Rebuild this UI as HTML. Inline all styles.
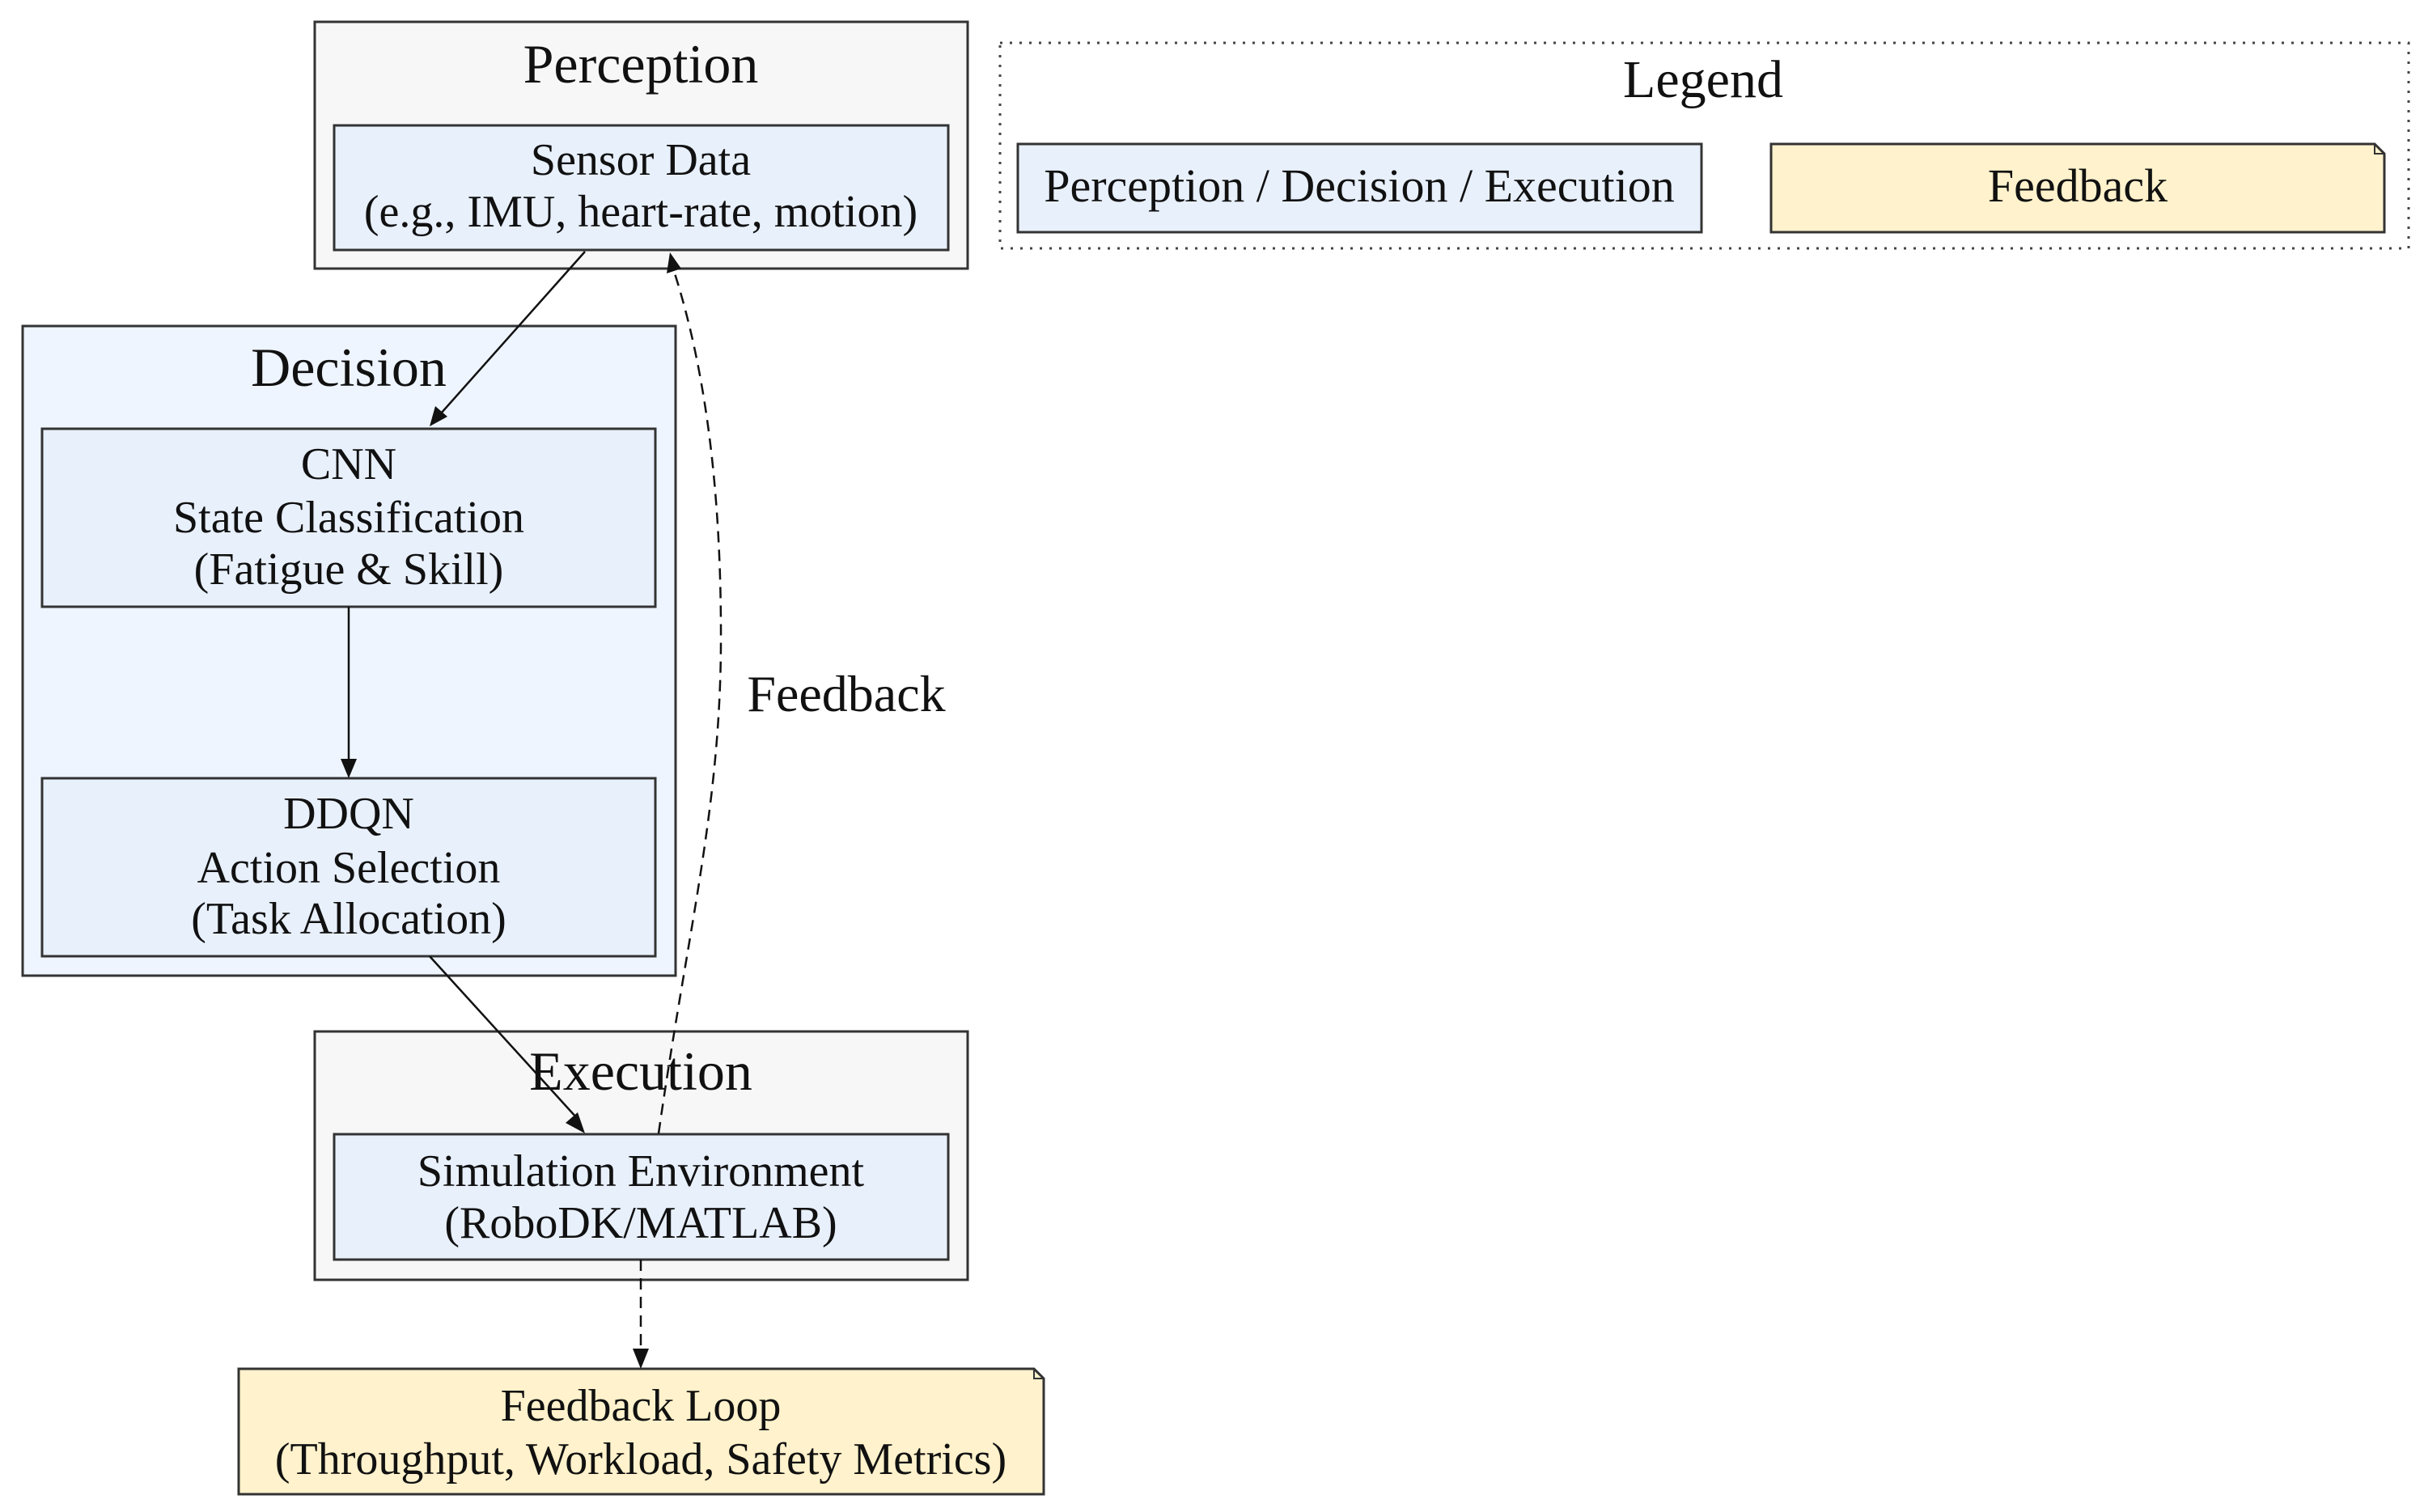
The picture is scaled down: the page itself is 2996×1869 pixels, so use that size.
<!DOCTYPE html>
<html><head><meta charset="utf-8"><style>
html,body{margin:0;padding:0;background:#fff;}
svg{display:block;}
text{font-family:"Liberation Serif",serif;fill:#111;text-anchor:middle;}
</style></head><body>
<svg width="2996" height="1869" viewBox="0 0 2996 1869" xmlns="http://www.w3.org/2000/svg">
<!-- Perception -->
<rect x="389" y="27" width="807" height="305" fill="#f7f7f7" stroke="#333" stroke-width="3"/>
<text x="792" y="102" font-size="68">Perception</text>
<rect x="413" y="155" width="759" height="154" fill="#e8f0fc" stroke="#333" stroke-width="3"/>
<text x="792" y="216" font-size="56">Sensor Data</text>
<text x="792" y="280" font-size="56">(e.g., IMU, heart-rate, motion)</text>
<!-- Decision -->
<rect x="28" y="403" width="807" height="803" fill="#eef5ff" stroke="#333" stroke-width="3"/>
<text x="431" y="477" font-size="68">Decision</text>
<rect x="52" y="530" width="758" height="220" fill="#e8f0fc" stroke="#333" stroke-width="3"/>
<text x="431" y="592" font-size="56">CNN</text>
<text x="431" y="658" font-size="56">State Classification</text>
<text x="431" y="722" font-size="56">(Fatigue &amp; Skill)</text>
<rect x="52" y="962" width="758" height="220" fill="#e8f0fc" stroke="#333" stroke-width="3"/>
<text x="431" y="1024" font-size="56">DDQN</text>
<text x="431" y="1091" font-size="56">Action Selection</text>
<text x="431" y="1154" font-size="56">(Task Allocation)</text>
<!-- Execution -->
<rect x="389" y="1275" width="807" height="307" fill="#f7f7f7" stroke="#333" stroke-width="3"/>
<text x="792" y="1347" font-size="68">Execution</text>
<rect x="413" y="1402" width="759" height="155" fill="#e8f0fc" stroke="#333" stroke-width="3"/>
<text x="792" y="1466" font-size="56">Simulation Environment</text>
<text x="792" y="1530" font-size="56">(RoboDK/MATLAB)</text>
<!-- Feedback loop note -->
<path d="M295 1692 H1278 L1290 1704 V1847 H295 Z" fill="#fff2cc" stroke="#333" stroke-width="3"/>
<path d="M1278 1692 V1704 H1290" fill="none" stroke="#333" stroke-width="2"/>
<text x="792" y="1756" font-size="56">Feedback Loop</text>
<text x="792" y="1822" font-size="56">(Throughput, Workload, Safety Metrics)</text>
<!-- Arrows -->
<line x1="723" y1="311" x2="545" y2="511" stroke="#111" stroke-width="2.5"/>
<polygon points="531,527 538,502 553,515" fill="#111"/>
<line x1="431" y1="750" x2="431" y2="940" stroke="#111" stroke-width="2.5"/>
<polygon points="431,962 421,938 441,938" fill="#111"/>
<line x1="531" y1="1182" x2="713" y2="1382" stroke="#111" stroke-width="2.5"/>
<polygon points="723,1401 699,1388 714,1375" fill="#111"/>
<path d="M814 1401 C850 1150 890 1000 891 797 C892 600 870 450 833 335" fill="none" stroke="#111" stroke-width="2.5" stroke-dasharray="14,9"/>
<polygon points="828,312 824,338 842,332" fill="#111"/>
<line x1="792" y1="1557" x2="792" y2="1668" stroke="#111" stroke-width="2.5" stroke-dasharray="14,9"/>
<polygon points="792,1692 782,1667 802,1667" fill="#111"/>
<text x="1046" y="879" font-size="64">Feedback</text>
<!-- Legend -->
<rect x="1236" y="53" width="1741" height="254" fill="none" stroke="#444" stroke-width="3" stroke-dasharray="3,9"/>
<text x="2105" y="120" font-size="66">Legend</text>
<rect x="1258" y="178" width="845" height="109" fill="#e8f0fc" stroke="#333" stroke-width="3"/>
<text x="1680" y="249" font-size="58">Perception / Decision / Execution</text>
<path d="M2189 178 H2935 L2947 190 V287 H2189 Z" fill="#fff2cc" stroke="#333" stroke-width="3"/>
<path d="M2935 178 V190 H2947" fill="none" stroke="#333" stroke-width="2"/>
<text x="2568" y="249" font-size="58">Feedback</text>
</svg>
</body></html>
